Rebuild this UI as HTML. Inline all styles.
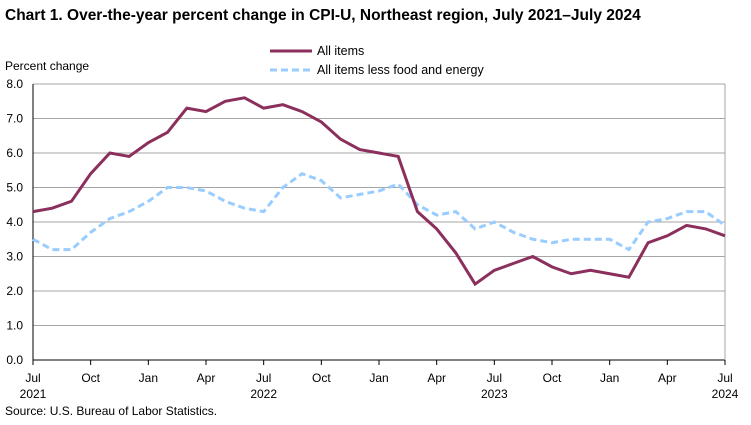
<!DOCTYPE html>
<html><head><meta charset="utf-8"><style>
body{margin:0;background:#fff;font-family:"Liberation Sans",Arial,sans-serif;}
svg text{font-family:"Liberation Sans",Arial,sans-serif;}
</style></head><body>
<svg id="chart" width="751" height="420" xmlns="http://www.w3.org/2000/svg">
<text x="5" y="20" font-size="15.5" font-weight="bold" fill="#000">Chart 1. Over-the-year percent change in CPI-U, Northeast region, July 2021–July 2024</text>
<text x="5" y="70" font-size="12" fill="#000">Percent change</text>
<g>
<line x1="270" y1="51" x2="312" y2="51" stroke="#8B2F5C" stroke-width="3"/>
<text x="317" y="55" font-size="12.5">All items</text>
<line x1="270" y1="70" x2="312" y2="70" stroke="#99CCFF" stroke-width="3" stroke-dasharray="7,4"/>
<text x="317" y="74" font-size="12.5">All items less food and energy</text>
</g>
<g id="grid"></g><g id="axes"></g><g id="series"></g>
<text x="5" y="415" font-size="12">Source: U.S. Bureau of Labor Statistics.</text>
</svg>
<script>
const allItems=[4.3,4.4,4.6,5.4,6.0,5.9,6.3,6.6,7.3,7.2,7.5,7.6,7.3,7.4,7.2,6.9,6.4,6.1,6.0,5.9,4.3,3.8,3.1,2.2,2.6,2.8,3.0,2.7,2.5,2.6,2.5,2.4,3.4,3.6,3.9,3.8,3.6];
const coreItems=[3.5,3.2,3.2,3.7,4.1,4.3,4.6,5.0,5.0,4.9,4.6,4.4,4.3,5.0,5.4,5.2,4.7,4.8,4.9,5.1,4.5,4.2,4.3,3.8,4.0,3.7,3.5,3.4,3.5,3.5,3.5,3.2,4.0,4.1,4.3,4.3,3.9];
const yTicks=[0,1,2,3,4,5,6,7,8];
const xLabels=["Jul","Oct","Jan","Apr","Jul","Oct","Jan","Apr","Jul","Oct","Jan","Apr","Jul"];
const xYears=["2021","","","","2022","","","","2023","","","","2024"];
const NS="http://www.w3.org/2000/svg";
const L=33,R=725,T=84,B=360;
const x=i=>L+(R-L)*i/36;
const y=v=>B-(B-T)*v/8;
function mk(tag,attrs,parent){const e=document.createElementNS(NS,tag);for(const k in attrs)e.setAttribute(k,attrs[k]);parent.appendChild(e);return e;}
const grid=document.getElementById('grid'),axes=document.getElementById('axes'),series=document.getElementById('series');
yTicks.forEach(v=>{
 const g=mk('line',{x1:L,x2:R,y1:y(v),y2:y(v),stroke:v===0?'#000':'#a6a6a6','stroke-width':1},grid);
 
 
 const t=mk('text',{x:L-10,y:y(v)+4,'text-anchor':'end','font-size':12},axes);
 t.textContent=v.toFixed(1);
 
 
});
mk('line',{x1:L,x2:L,y1:T,y2:B,stroke:'#000'},axes);
mk('line',{x1:R,x2:R,y1:T,y2:B,stroke:'#a6a6a6'},axes);
xLabels.forEach((s,k)=>{
 const i=k*3;
 mk('line',{x1:x(i),x2:x(i),y1:B,y2:B+5,stroke:'#000'},axes);
 const t=mk('text',{x:x(i),y:382,'text-anchor':'middle','font-size':12},axes);
 t.textContent=s;
 
 
 if(xYears[k]){const t2=mk('text',{x:x(i),y:398,'text-anchor':'middle','font-size':12},axes);
 t2.textContent=xYears[k];
 
 }
});
const p1=mk('polyline',{points:coreItems.map((v,i)=>x(i)+','+y(v)).join(' '),fill:'none',stroke:'#99CCFF','stroke-width':3,'stroke-dasharray':'7,4'},series);


const p2=mk('polyline',{points:allItems.map((v,i)=>x(i)+','+y(v)).join(' '),fill:'none',stroke:'#8B2F5C','stroke-width':3},series);


</script>
</body></html>
